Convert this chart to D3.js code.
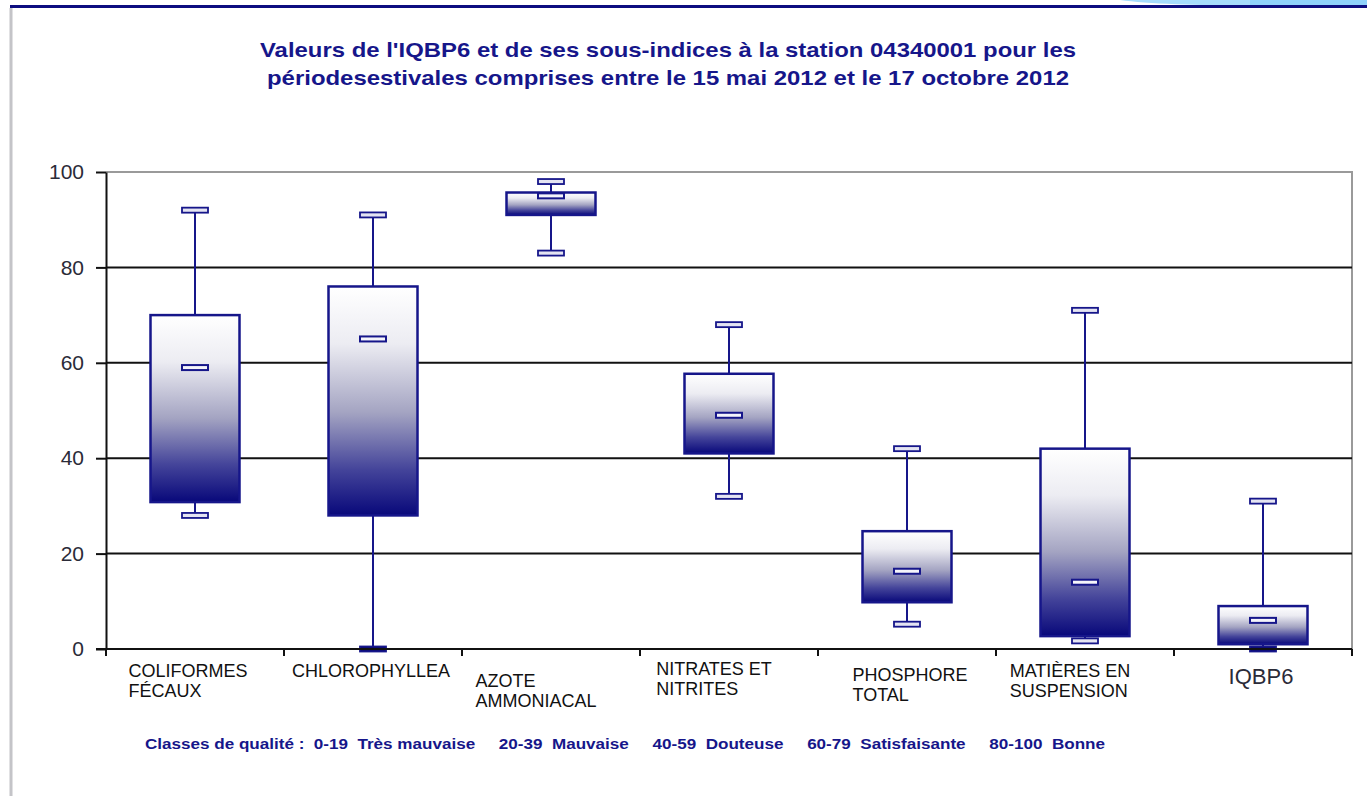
<!DOCTYPE html>
<html>
<head>
<meta charset="utf-8">
<script src="https://cdn.jsdelivr.net/npm/d3@7"></script>
<style>
  body { margin: 0; background: #fff; }
  svg { display: block; font-family: "Liberation Sans", Arial, sans-serif; }
</style>
</head>
<body>
<svg id="chart" width="1367" height="796"></svg>
<script>
// data
var categories = [
  ["COLIFORMES", "FÉCAUX"],
  ["CHLOROPHYLLEA"],
  ["AZOTE", "AMMONIACAL"],
  ["NITRATES ET", "NITRITES"],
  ["PHOSPHORE", "TOTAL"],
  ["MATIÈRES EN", "SUSPENSION"],
  ["IQBP6"]
];
var maxVals    = [92, 91, 98, 68, 42, 71, 31];
var q3Vals     = [70, 76, 95.7, 57.7, 24.7, 42, 9];
var medianVals = [59, 65, 95, 49, 16.3, 14, 6];
var q1Vals     = [30.8, 28, 91, 41, 9.8, 2.7, 1];
var minVals    = [28, 0, 83, 32, 5.2, 1.7, 0];
var yTicks = [0, 20, 40, 60, 80, 100];

var titleLines = [
  "Valeurs de l'IQBP6 et de ses sous-indices à la station 04340001 pour les",
  "périodesestivales comprises entre le 15 mai 2012 et le 17 octobre 2012"
];
var footnote = "Classes de qualité :  0-19  Très mauvaise     20-39  Mauvaise     40-59  Douteuse     60-79  Satisfaisante     80-100  Bonne";

// layout (plotTop, not "top": that one is window.top)
var plotLeft = 106, plotRight = 1352, plotTop = 172, plotBottom = 649;
var navy = "#16168a";

var svg = d3.select("#chart");

var names = categories.map(function (c) { return c.join(" "); });
var x = d3.scaleBand().domain(names).range([plotLeft, plotRight]).padding(0);
var y = d3.scaleLinear().domain([0, 100]).range([plotBottom, plotTop]);

// gradient for the boxes
var grad = svg.append("defs").append("linearGradient")
  .attr("id", "boxfill").attr("x1", 0).attr("y1", 0).attr("x2", 0).attr("y2", 1);
grad.append("stop").attr("offset", "0%").attr("stop-color", "#ffffff");
grad.append("stop").attr("offset", "25%").attr("stop-color", "#ececf2");
grad.append("stop").attr("offset", "55%").attr("stop-color", "#a4a4c2");
grad.append("stop").attr("offset", "80%").attr("stop-color", "#44449a");
grad.append("stop").attr("offset", "100%").attr("stop-color", "#08087a");

// page decoration: top bar and left border
svg.append("path")
  .attr("d", "M1120,0 C1170,7 1300,7 1367,2 L1367,0 Z")
  .attr("fill", "#a6dcfc");
svg.append("rect").attr("x", 1250).attr("y", 0).attr("width", 117).attr("height", 5).attr("fill", "#8fd2fb");
svg.append("line").attr("x1", 10).attr("x2", 1367).attr("y1", 6.5).attr("y2", 6.5)
  .attr("stroke", "#0d0d80").attr("stroke-width", 3);
svg.append("line").attr("x1", 11).attr("x2", 11).attr("y1", 8).attr("y2", 796)
  .attr("stroke", "#c4c4c8").attr("stroke-width", 3);

// title
svg.append("g").selectAll("text").data(titleLines).join("text")
  .attr("x", 668).attr("y", function (d, i) { return 57 + i * 28; })
  .attr("text-anchor", "middle")
  .attr("font-size", 21).attr("font-weight", "bold").attr("fill", navy)
  .attr("textLength", function (d, i) { return i === 0 ? 816 : 802; })
  .attr("lengthAdjust", "spacingAndGlyphs")
  .text(function (d) { return d; });

// plot frame (top and right, grey)
svg.append("line").attr("x1", plotLeft).attr("x2", plotRight).attr("y1", y(100)).attr("y2", y(100))
  .attr("stroke", "#9a9a9a").attr("stroke-width", 2);
svg.append("line").attr("x1", plotRight).attr("x2", plotRight).attr("y1", y(100) - 1).attr("y2", plotBottom + 6)
  .attr("stroke", "#9a9a9a").attr("stroke-width", 2);

// gridlines
svg.append("g").selectAll("line").data(yTicks.filter(function (t) { return t > 0 && t < 100; })).join("line")
  .attr("x1", plotLeft).attr("x2", plotRight)
  .attr("y1", function (d) { return y(d); }).attr("y2", function (d) { return y(d); })
  .attr("stroke", "#111").attr("stroke-width", 2);

// y axis
var yAxis = svg.append("g").attr("transform", "translate(" + plotLeft + ",0)")
  .call(d3.axisLeft(y).tickValues(yTicks).tickSize(10).tickSizeOuter(0).tickPadding(12));
yAxis.select(".domain").attr("stroke", "#111").attr("stroke-width", 2);
yAxis.selectAll(".tick line").attr("stroke", "#111").attr("stroke-width", 2);
yAxis.selectAll(".tick text")
  .attr("font-size", 21).attr("fill", "#2b2b38")
  .attr("font-family", "'Liberation Sans', Arial, sans-serif");

// boxes
var boxW = x.bandwidth() * 0.5;
var capW = 26;
var g = svg.append("g").selectAll("g").data(names).join("g")
  .attr("transform", function (d) { return "translate(" + (x(d) + x.bandwidth() / 2) + ",0)"; });

g.append("line").attr("class", "whisker-up")
  .attr("x1", 0).attr("x2", 0)
  .attr("y1", function (d, i) { return y(maxVals[i]); })
  .attr("y2", function (d, i) { return y(q3Vals[i]); })
  .attr("stroke", navy).attr("stroke-width", 2);
g.append("line").attr("class", "whisker-down")
  .attr("x1", 0).attr("x2", 0)
  .attr("y1", function (d, i) { return y(q1Vals[i]); })
  .attr("y2", function (d, i) { return y(minVals[i]); })
  .attr("stroke", navy).attr("stroke-width", 2);

g.append("rect")
  .attr("x", -boxW / 2).attr("width", boxW)
  .attr("y", function (d, i) { return y(q3Vals[i]); })
  .attr("height", function (d, i) { return y(q1Vals[i]) - y(q3Vals[i]); })
  .attr("fill", "url(#boxfill)").attr("stroke", navy).attr("stroke-width", 2.5);

// caps (a cap sitting on 0 is drawn dark, like the reference)
[maxVals, minVals].forEach(function (vals) {
  g.append("rect")
    .attr("x", -capW / 2).attr("width", capW)
    .attr("y", function (d, i) { return y(vals[i]) - 2.5; })
    .attr("height", 5)
    .attr("fill", function (d, i) { return vals[i] === 0 ? "#0a0a70" : "#e4e4f2"; })
    .attr("stroke", navy).attr("stroke-width", 1.8);
});

// median marker
g.append("rect")
  .attr("x", -capW / 2).attr("width", capW)
  .attr("y", function (d, i) { return y(medianVals[i]) - 2.5; })
  .attr("height", 5)
  .attr("fill", "#f4f4fa").attr("stroke", navy).attr("stroke-width", 2);

// x axis line and boundary ticks
svg.append("line").attr("x1", plotLeft - 10).attr("x2", plotRight).attr("y1", plotBottom).attr("y2", plotBottom)
  .attr("stroke", "#111").attr("stroke-width", 2);
svg.append("g").selectAll("line").data(names).join("line")
  .attr("x1", function (d) { return x(d) + x.bandwidth(); })
  .attr("x2", function (d) { return x(d) + x.bandwidth(); })
  .attr("y1", plotBottom).attr("y2", plotBottom + 7)
  .attr("stroke", "#111").attr("stroke-width", 2);
svg.append("line").attr("x1", plotLeft).attr("x2", plotLeft).attr("y1", plotBottom).attr("y2", plotBottom + 7)
  .attr("stroke", "#111").attr("stroke-width", 2);

// category labels
var labelShift = [-7, -2, -15, -15, 3, -15, -2];
var labelTop = [677, 677, 687, 675, 681, 677, 684];
var labels = svg.append("g").selectAll("text").data(categories).join("text")
  .attr("font-size", function (d, i) { return i === 6 ? 22 : 18; })
  .attr("fill", function (d, i) { return i === 6 ? "#2b2b38" : "#111"; });
labels.each(function (lines, i) {
  var t = d3.select(this);
  t.selectAll("tspan").data(lines).join("tspan")
    .attr("x", 0)
    .attr("dy", function (d, j) { return j === 0 ? 0 : 20; })
    .text(function (d) { return d; });
  var w = this.getBBox().width;
  var cx = x(names[i]) + x.bandwidth() / 2 + labelShift[i];
  t.attr("y", labelTop[i]);
  t.selectAll("tspan").attr("x", cx - w / 2);
});

// quality classes footnote
svg.append("text")
  .attr("x", 145).attr("y", 749)
  .attr("font-size", 14).attr("font-weight", "bold").attr("fill", navy)
  .attr("textLength", 960).attr("lengthAdjust", "spacingAndGlyphs")
  .style("white-space", "pre")
  .text(footnote);
</script>
</body>
</html>
